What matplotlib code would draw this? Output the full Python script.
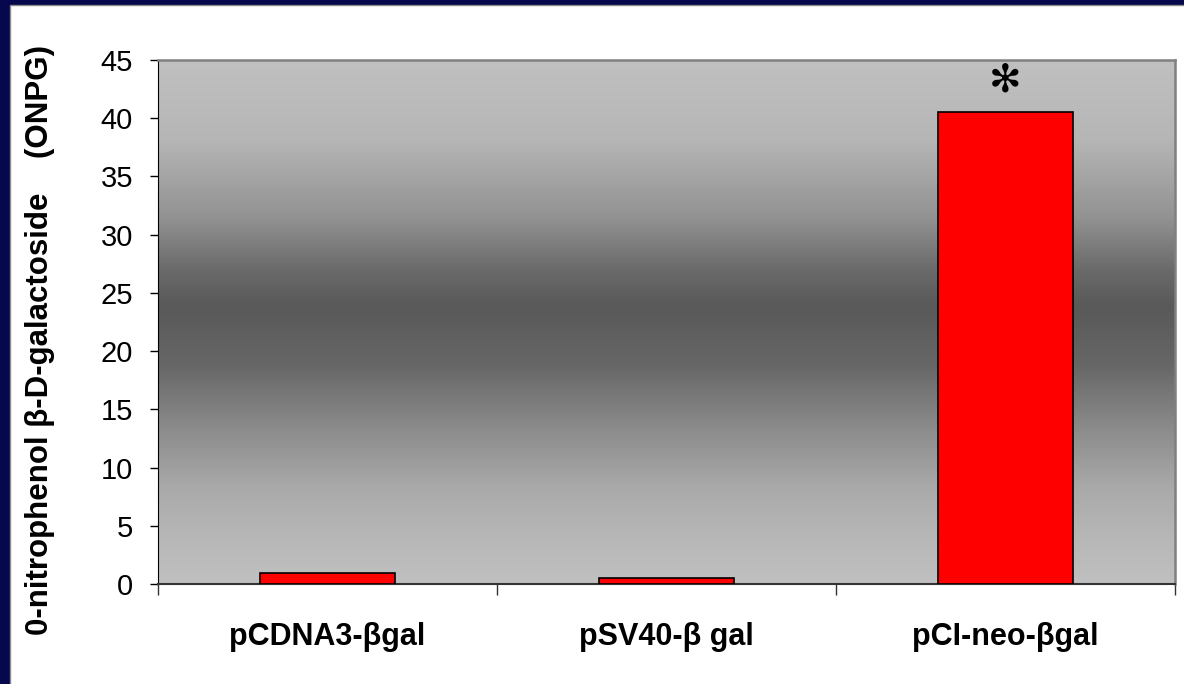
import numpy as np
import matplotlib
matplotlib.use("Agg")
from matplotlib import pyplot as plt
from matplotlib.colors import LinearSegmentedColormap
from matplotlib.patches import Rectangle

plt.rcParams['font.family'] = ['Liberation Sans', 'DejaVu Sans']

categories = ['pCDNA3-βgal', 'pSV40-β gal', 'pCI-neo-βgal']
onpg_values = [0.95, 0.5, 40.5]
y_ticks = [0, 5, 10, 15, 20, 25, 30, 35, 40, 45]
y_label = '0-nitrophenol β-D-galactoside    (ONPG)'
marked_bar = 2

fig = plt.figure(figsize=(11.84, 6.84), dpi=100)
fig.patch.set_facecolor('#07074d')

# white slide panel inside the navy frame
fig.patches.append(Rectangle((10 / 1184, -0.01), 1, 1.01 - 5 / 684, transform=fig.transFigure,
                             facecolor='white', edgecolor='#8a8a8a', linewidth=1.0, zorder=-5))

ax = fig.add_axes([158 / 1184, 1 - 584 / 684, (1175 - 158) / 1184, (584 - 60) / 684])
ax.set_facecolor('none')

# vertical grey gradient behind the bars (light at top/bottom, dark in the middle)
grad = LinearSegmentedColormap.from_list('bg', [
    (0.0, '#c0c0c0'), (0.15, '#b6b6b6'), (0.30, '#929292'), (0.40, '#6a6a6a'),
    (0.47, '#595959'), (0.58, '#666666'), (0.70, '#8a8a8a'), (0.82, '#aaaaaa'),
    (0.92, '#b8b8b8'), (1.0, '#c0c0c0')])
ax.imshow(np.linspace(0, 1, 256).reshape(-1, 1), cmap=grad, aspect='auto',
          extent=[0, 1, 0, 1], transform=ax.transAxes, zorder=0)

x = np.arange(len(categories))
ax.bar(x, onpg_values, width=0.40, color='#ff0000', edgecolor='black', linewidth=1.2, zorder=3)
ax.text(x[marked_bar], onpg_values[marked_bar] + 2.7, '✻', ha='center', va='center',
        fontsize=28, fontweight='bold', family='DejaVu Sans', color='black', zorder=4)

ax.set_xlim(-0.5, len(categories) - 0.5)
ax.set_ylim(0, 45)
ax.set_yticks(y_ticks)
ax.tick_params(axis='y', direction='out', length=6, width=1, colors='black',
               labelsize=21, pad=12)
ax.set_xticks(x)
ax.set_xticklabels(categories, fontsize=22, fontweight='bold')
ax.tick_params(axis='x', which='major', length=0, pad=27)
ax.set_xticks(np.arange(len(categories) + 1) - 0.5, minor=True)
ax.tick_params(axis='x', which='minor', direction='out', length=8, width=1, color='#333333')

for side in ['top', 'right']:
    ax.spines[side].set_color('#808080')
    ax.spines[side].set_linewidth(1.8)
ax.spines['left'].set_color('black')
ax.spines['bottom'].set_color('#333333')
ax.spines['bottom'].set_linewidth(1.5)

fig.text(40 / 1184, 1 - 340 / 684, y_label, rotation=90, ha='center', va='center',
         fontsize=22.5, fontweight='bold')

fig.savefig('out.png', dpi=100, facecolor=fig.get_facecolor())
